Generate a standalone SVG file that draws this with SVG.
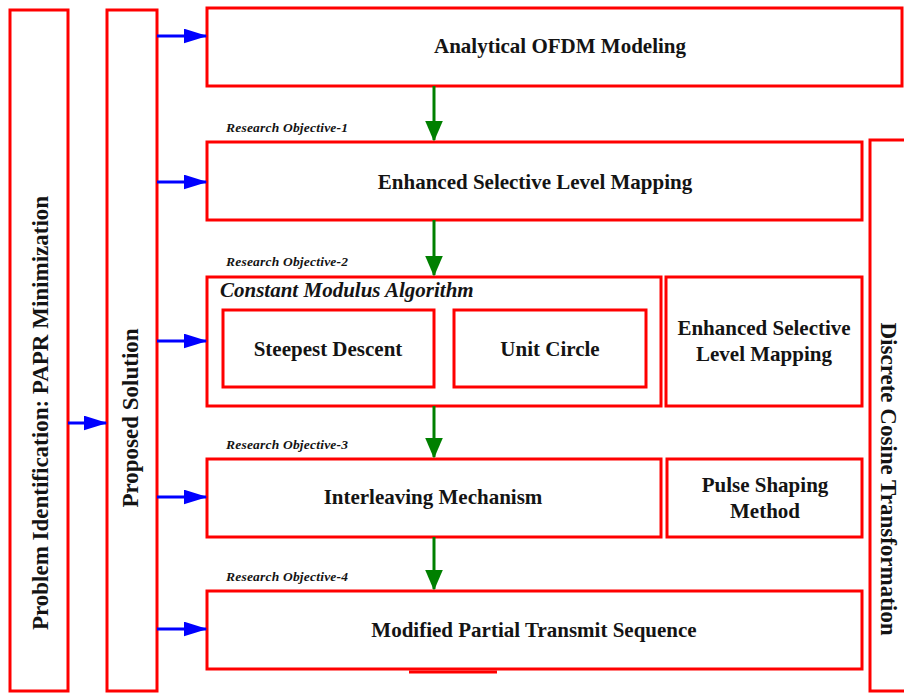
<svg xmlns="http://www.w3.org/2000/svg" width="904" height="693" viewBox="0 0 904 693">
<style>
.box{fill:#fff;stroke:#ff0000;stroke-width:3}
.t{font-family:"Liberation Serif",serif;font-weight:bold;font-size:21px;fill:#141414;text-anchor:middle}
.v{font-size:23px}
.ro{font-family:"Liberation Serif",serif;font-weight:bold;font-style:italic;font-size:13.5px;fill:#141414}
.b{stroke:#0000ff;stroke-width:3;fill:none}
.g{stroke:#008000;stroke-width:3;fill:none}
</style>
<defs>
<marker id="ab" markerWidth="8" markerHeight="5" refX="7.5" refY="2.5" orient="auto" markerUnits="strokeWidth"><path d="M0,0 L8,2.5 L0,5 z" fill="#0000ff"/></marker>
<marker id="ag" markerWidth="7" markerHeight="6" refX="6.5" refY="3" orient="auto" markerUnits="strokeWidth"><path d="M0,0 L7,3 L0,6 z" fill="#008000"/></marker>
</defs>
<rect width="904" height="693" fill="#fff"/>
<g id="problem"><rect class="box" x="10" y="10" width="58" height="681"/><text class="t v" transform="translate(48,413) rotate(-90)">Problem Identification: PAPR Minimization</text></g>
<g id="proposed"><rect class="box" x="107" y="10" width="50" height="681"/><text class="t v" transform="translate(138,418) rotate(-90)">Proposed Solution</text></g>
<g id="dct"><rect class="box" x="870" y="140" width="40" height="551"/><text class="t v" transform="translate(881,479) rotate(90)">Discrete Cosine Transformation</text></g>
<g id="ofdm"><rect class="box" x="207" y="8" width="695" height="78"/><text class="t" x="560" y="53">Analytical OFDM Modeling</text></g>
<g id="eslm"><rect class="box" x="207" y="142" width="655" height="78"/><text class="t" x="535" y="189">Enhanced Selective Level Mapping</text></g>
<g id="cma"><rect class="box" x="207" y="277" width="454" height="129"/><text class="t" x="220" y="297" style="text-anchor:start;font-style:italic">Constant Modulus Algorithm</text></g>
<g id="steepest"><rect class="box" x="223" y="310" width="211" height="77"/><text class="t" x="328" y="356">Steepest Descent</text></g>
<g id="unit"><rect class="box" x="454" y="310" width="192" height="77"/><text class="t" x="550" y="356">Unit Circle</text></g>
<g id="eslm2"><rect class="box" x="666" y="277" width="196" height="129"/><text class="t" x="764" y="335">Enhanced Selective</text><text class="t" x="764" y="361">Level Mapping</text></g>
<g id="interleave"><rect class="box" x="207" y="459" width="454" height="78"/><text class="t" x="433" y="504">Interleaving Mechanism</text></g>
<g id="pulse"><rect class="box" x="667" y="459" width="195" height="78"/><text class="t" x="765" y="492">Pulse Shaping</text><text class="t" x="765" y="518">Method</text></g>
<g id="mpts"><rect class="box" x="207" y="591" width="655" height="78"/><text class="t" x="534" y="637">Modified Partial Transmit Sequence</text><line x1="409" y1="672" x2="497" y2="672" stroke="#ff0000" stroke-width="3"/></g>
<g id="labels">
<text class="ro" x="226" y="132" textLength="122">Research Objective-1</text>
<text class="ro" x="226" y="266" textLength="122">Research Objective-2</text>
<text class="ro" x="226" y="449" textLength="122">Research Objective-3</text>
<text class="ro" x="226" y="581" textLength="122">Research Objective-4</text>
</g>
<g id="connectors">
<line class="b" x1="68" y1="423" x2="106" y2="423" marker-end="url(#ab)"/>
<line class="b" x1="157" y1="36" x2="206" y2="36" marker-end="url(#ab)"/>
<line class="b" x1="157" y1="182" x2="206" y2="182" marker-end="url(#ab)"/>
<line class="b" x1="157" y1="341" x2="206" y2="341" marker-end="url(#ab)"/>
<line class="b" x1="157" y1="497" x2="206" y2="497" marker-end="url(#ab)"/>
<line class="b" x1="157" y1="629" x2="206" y2="629" marker-end="url(#ab)"/>
<line class="g" x1="434" y1="86" x2="434" y2="140" marker-end="url(#ag)"/>
<line class="g" x1="434" y1="220" x2="434" y2="275" marker-end="url(#ag)"/>
<line class="g" x1="434" y1="406" x2="434" y2="457" marker-end="url(#ag)"/>
<line class="g" x1="434" y1="537" x2="434" y2="589" marker-end="url(#ag)"/>
</g>
</svg>
